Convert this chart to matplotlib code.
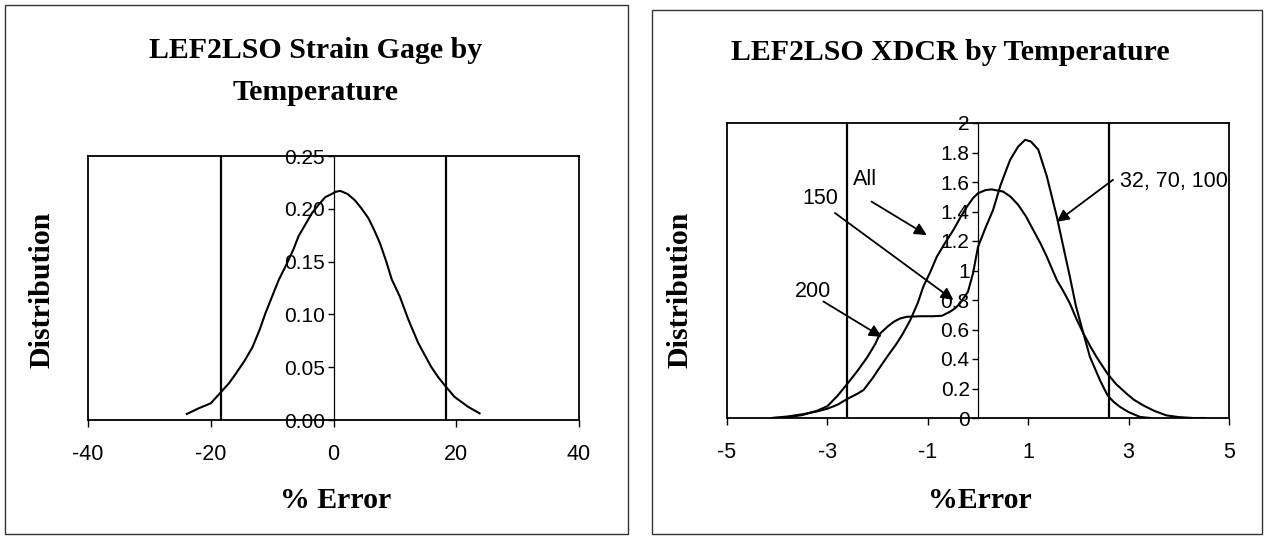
import matplotlib.pyplot as plt
from matplotlib.patches import Rectangle

plt.rcParams['font.family'] = ['Liberation Sans', 'DejaVu Sans']
plt.rcParams['axes.unicode_minus'] = False

# left chart: strain gage distribution
sg_x = [-23.9, -22, -20, -18.4, -17, -15.9, -14.5, -13.2, -12, -11.1, -10, -8.9, -7.6,
        -6.5, -5.7, -4.5, -3.5, -2.4, -1.35, -0.3, 0.3, 1.1, 2.3, 3.5, 4.6, 5.7, 6.7,
        7.6, 8.6, 9.5, 10.8, 12.2, 13.8, 15.9, 17, 18.1, 19.7, 21.9, 23.8]
sg_y = [0.0057, 0.011, 0.0158, 0.026, 0.035, 0.044, 0.056, 0.069, 0.086, 0.101, 0.117,
        0.133, 0.148, 0.162, 0.174, 0.186, 0.196, 0.204, 0.211, 0.214, 0.216, 0.217,
        0.214, 0.208, 0.200, 0.191, 0.179, 0.167, 0.150, 0.133, 0.117, 0.095, 0.073,
        0.0505, 0.041, 0.033, 0.022, 0.0126, 0.0063]
sg_limits = [-18.3, 18.3]
sg_xticks = [-40, -20, 0, 20, 40]
sg_yticks = [0.00, 0.05, 0.10, 0.15, 0.20, 0.25]

# right chart: XDCR distributions
all_x = [-4.1, -3.8, -3.5, -3.2, -3.0, -2.8, -2.6, -2.4, -2.28, -2.1, -1.95, -1.8, -1.62,
         -1.5, -1.35, -1.2, -1.09, -0.95, -0.82, -0.65, -0.49, -0.35, -0.22, -0.1, 0.0,
         0.15, 0.27, 0.5, 0.65, 0.8, 0.95, 1.1, 1.25, 1.37, 1.57, 1.7, 1.83, 1.95, 2.1,
         2.23, 2.36, 2.58, 2.75, 2.96, 3.1, 3.29, 3.5, 3.75, 4.0, 4.28, 4.5]
all_y = [0.0, 0.01, 0.025, 0.045, 0.063, 0.09, 0.13, 0.165, 0.19, 0.27, 0.346, 0.42,
         0.505, 0.57, 0.663, 0.78, 0.89, 0.99, 1.094, 1.19, 1.275, 1.36, 1.433, 1.49,
         1.524, 1.545, 1.55, 1.535, 1.5, 1.445, 1.37, 1.275, 1.18, 1.094, 0.935, 0.86,
         0.777, 0.68, 0.573, 0.49, 0.414, 0.30, 0.23, 0.165, 0.125, 0.086, 0.05, 0.018,
         0.006, 0.0, 0.0]
temp_x = [-4.1, -3.8, -3.5, -3.2, -3.0, -2.8, -2.6, -2.4, -2.21, -2.05, -1.95, -1.8,
          -1.68, -1.55, -1.42, -1.15, -0.9, -0.72, -0.56, -0.45, -0.36, -0.2, -0.1, 0.0,
          0.15, 0.3, 0.45, 0.64, 0.8, 0.94, 1.05, 1.2, 1.37, 1.57, 1.7, 1.83, 1.95, 2.1,
          2.23, 2.43, 2.58, 2.7, 2.83, 3.0, 3.23, 3.43]
temp_y = [0.0, 0.005, 0.02, 0.05, 0.08, 0.15, 0.233, 0.32, 0.41, 0.5, 0.573, 0.62,
          0.652, 0.675, 0.686, 0.69, 0.69, 0.693, 0.72, 0.745, 0.777, 0.856, 0.98, 1.16,
          1.29, 1.41, 1.58, 1.75, 1.84, 1.886, 1.875, 1.82, 1.64, 1.365, 1.16, 0.958,
          0.76, 0.573, 0.414, 0.256, 0.154, 0.11, 0.075, 0.04, 0.007, 0.0]
xd_limits = [-2.6, 2.6]
xd_xticks = [-5, -3, -1, 1, 3, 5]
xd_yticks = [0, 0.2, 0.4, 0.6, 0.8, 1, 1.2, 1.4, 1.6, 1.8, 2]
xd_ylabels = ['0', '0.2', '0.4', '0.6', '0.8', '1', '1.2', '1.4', '1.6', '1.8', '2']

# annotation labels: text, text position, alignment, arrow tail, arrow head
notes = [
    ('All', (-2.49, 1.615), 'left', (-2.12, 1.467), (-1.02, 1.24)),
    ('150', (-3.14, 1.49), 'center', (-2.85, 1.39), (-0.49, 0.80)),
    ('200', (-3.29, 0.86), 'center', (-3.08, 0.79), (-1.92, 0.55)),
    ('32, 70, 100', (2.83, 1.60), 'left', (2.69, 1.615), (1.57, 1.33)),
]

W, H = 1265, 537
fig = plt.figure(figsize=(W / 100, H / 100), dpi=100)
serif = dict(family='Liberation Serif', fontweight='bold', fontsize=21.5)


def px_axes(left, top, right, bottom):
    return fig.add_axes([left / W, 1 - bottom / H, (right - left) / W, (bottom - top) / H])


def style_axes(ax, xlim, ylim, xticks, yticks, ylabels):
    ax.set_xlim(*xlim)
    ax.set_ylim(*ylim)
    for s in ['top', 'right', 'bottom']:
        ax.spines[s].set_linewidth(1.3)
    ax.spines['left'].set_position(('data', 0))
    ax.spines['left'].set_linewidth(0.9)
    ax.plot([0, 0], [0, 1], transform=ax.transAxes, color='k', lw=1.3, clip_on=False)
    ax.set_xticks(xticks)
    ax.set_yticks(yticks)
    ax.set_yticklabels(ylabels)
    ax.tick_params(axis='x', direction='out', length=5, width=1, labelsize=15.5, pad=12)
    ax.tick_params(axis='y', direction='out', length=4, width=1, labelsize=15, pad=2)


# left panel
fig.add_artist(Rectangle((5 / W, 1 - 534 / H), 623 / W, 529 / H, transform=fig.transFigure,
                         fill=False, lw=1, ec='#333333'))
ax1 = px_axes(88, 156, 579, 420)
ax1.plot(sg_x, sg_y, color='k', lw=1.5)
for v in sg_limits:
    ax1.axvline(v, color='k', lw=1.6)
style_axes(ax1, (-40, 40), (0, 0.25), sg_xticks, sg_yticks,
           ['%.2f' % t for t in sg_yticks])
fig.text(316 / W, 1 - 50 / H, 'LEF2LSO Strain Gage by', ha='center', va='center', **serif)
fig.text(316 / W, 1 - 93 / H, 'Temperature', ha='center', va='center', **serif)
fig.text(42 / W, 1 - 290 / H, 'Distribution', ha='center', va='center', rotation=90, **serif)
fig.text(336 / W, 1 - 500 / H, '% Error', ha='center', va='center', **serif)

# right panel
fig.add_artist(Rectangle((652 / W, 1 - 534 / H), 610 / W, 524 / H, transform=fig.transFigure,
                         fill=False, lw=1, ec='#333333'))
ax2 = px_axes(727, 123, 1229, 418)
ax2.plot(all_x, all_y, color='k', lw=1.5)
ax2.plot(temp_x, temp_y, color='k', lw=1.5)
for v in xd_limits:
    ax2.axvline(v, color='k', lw=1.6)
style_axes(ax2, (-5, 5), (0, 2), xd_xticks, xd_yticks, xd_ylabels)
for label, tpos, align, tail, head in notes:
    ax2.text(tpos[0], tpos[1], label, fontsize=15.5, ha=align, va='center')
    ax2.annotate('', xy=head, xytext=tail,
                 arrowprops=dict(arrowstyle='-|>', color='k', lw=1.3, mutation_scale=18,
                                 shrinkA=0, shrinkB=0))
fig.text(950 / W, 1 - 52 / H, 'LEF2LSO XDCR by Temperature', ha='center', va='center', **serif)
fig.text(680 / W, 1 - 290 / H, 'Distribution', ha='center', va='center', rotation=90, **serif)
fig.text(980 / W, 1 - 500 / H, '%Error', ha='center', va='center', **serif)

fig.savefig('out.png', dpi=100)
